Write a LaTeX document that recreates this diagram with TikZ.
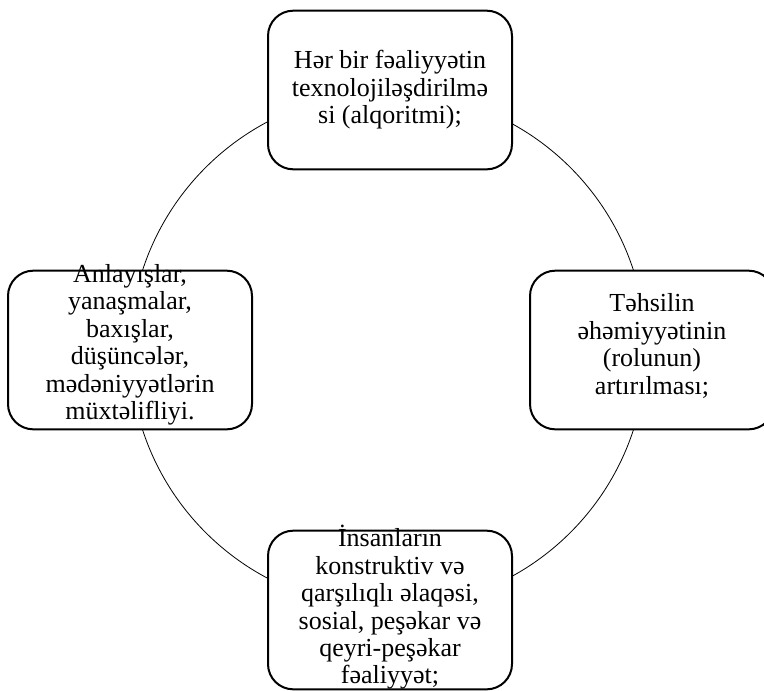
\documentclass[tikz,border=0pt]{standalone}
\usepackage{fontspec}
\setmainfont{Liberation Serif}
\usetikzlibrary{positioning}

\tikzset{
  cyclebox/.style={draw, line width=1.5pt, rounded corners=19pt, fill=white,
    minimum width=183pt, minimum height=119pt, inner sep=0pt},
  cycletext/.style={align=center, inner sep=0pt,
    font=\fontsize{19.5}{20.6}\selectfont},
  ring/.style={draw, circle, line width=0.6pt, minimum size=387pt, inner sep=0pt}
}

\begin{document}
\begin{tikzpicture}[x=0.75pt, y=-0.75pt]

  \useasboundingbox (0,0) rectangle (764,690);

  % Define ring
  \node[ring] (cycle) at (388,350) {};

  % Define boxes
  \node[cyclebox] (tech) at (390,90) {};
  \node[cyclebox] (edu) at (652,350) {};
  \node[cyclebox] (people) at (390,610) {};
  \node[cyclebox] (ideas) at (130,350) {};

  % Texts
  \node[cycletext] (techtext) at (tech) {Hər bir fəaliyyətin\\texnolojiləşdirilmə\\si (alqoritmi);};
  \node[cycletext] (edutext) at ([yshift=3]edu.center) {Təhsilin\\əhəmiyyətinin\\(rolunun)\\artırılması;};
  \node[cycletext] (peopletext) at ([yshift=2]people.center) {İnsanların\\konstruktiv və\\qarşılıqlı əlaqəsi,\\sosial, peşəkar və\\qeyri-peşəkar\\fəaliyyət;};
  \node[cycletext] (ideastext) at ([yshift=4]ideas.center) {Anlayışlar,\\yanaşmalar,\\baxışlar,\\düşüncələr,\\mədəniyyətlərin\\müxtəlifliyi.};

\end{tikzpicture}
\end{document}
